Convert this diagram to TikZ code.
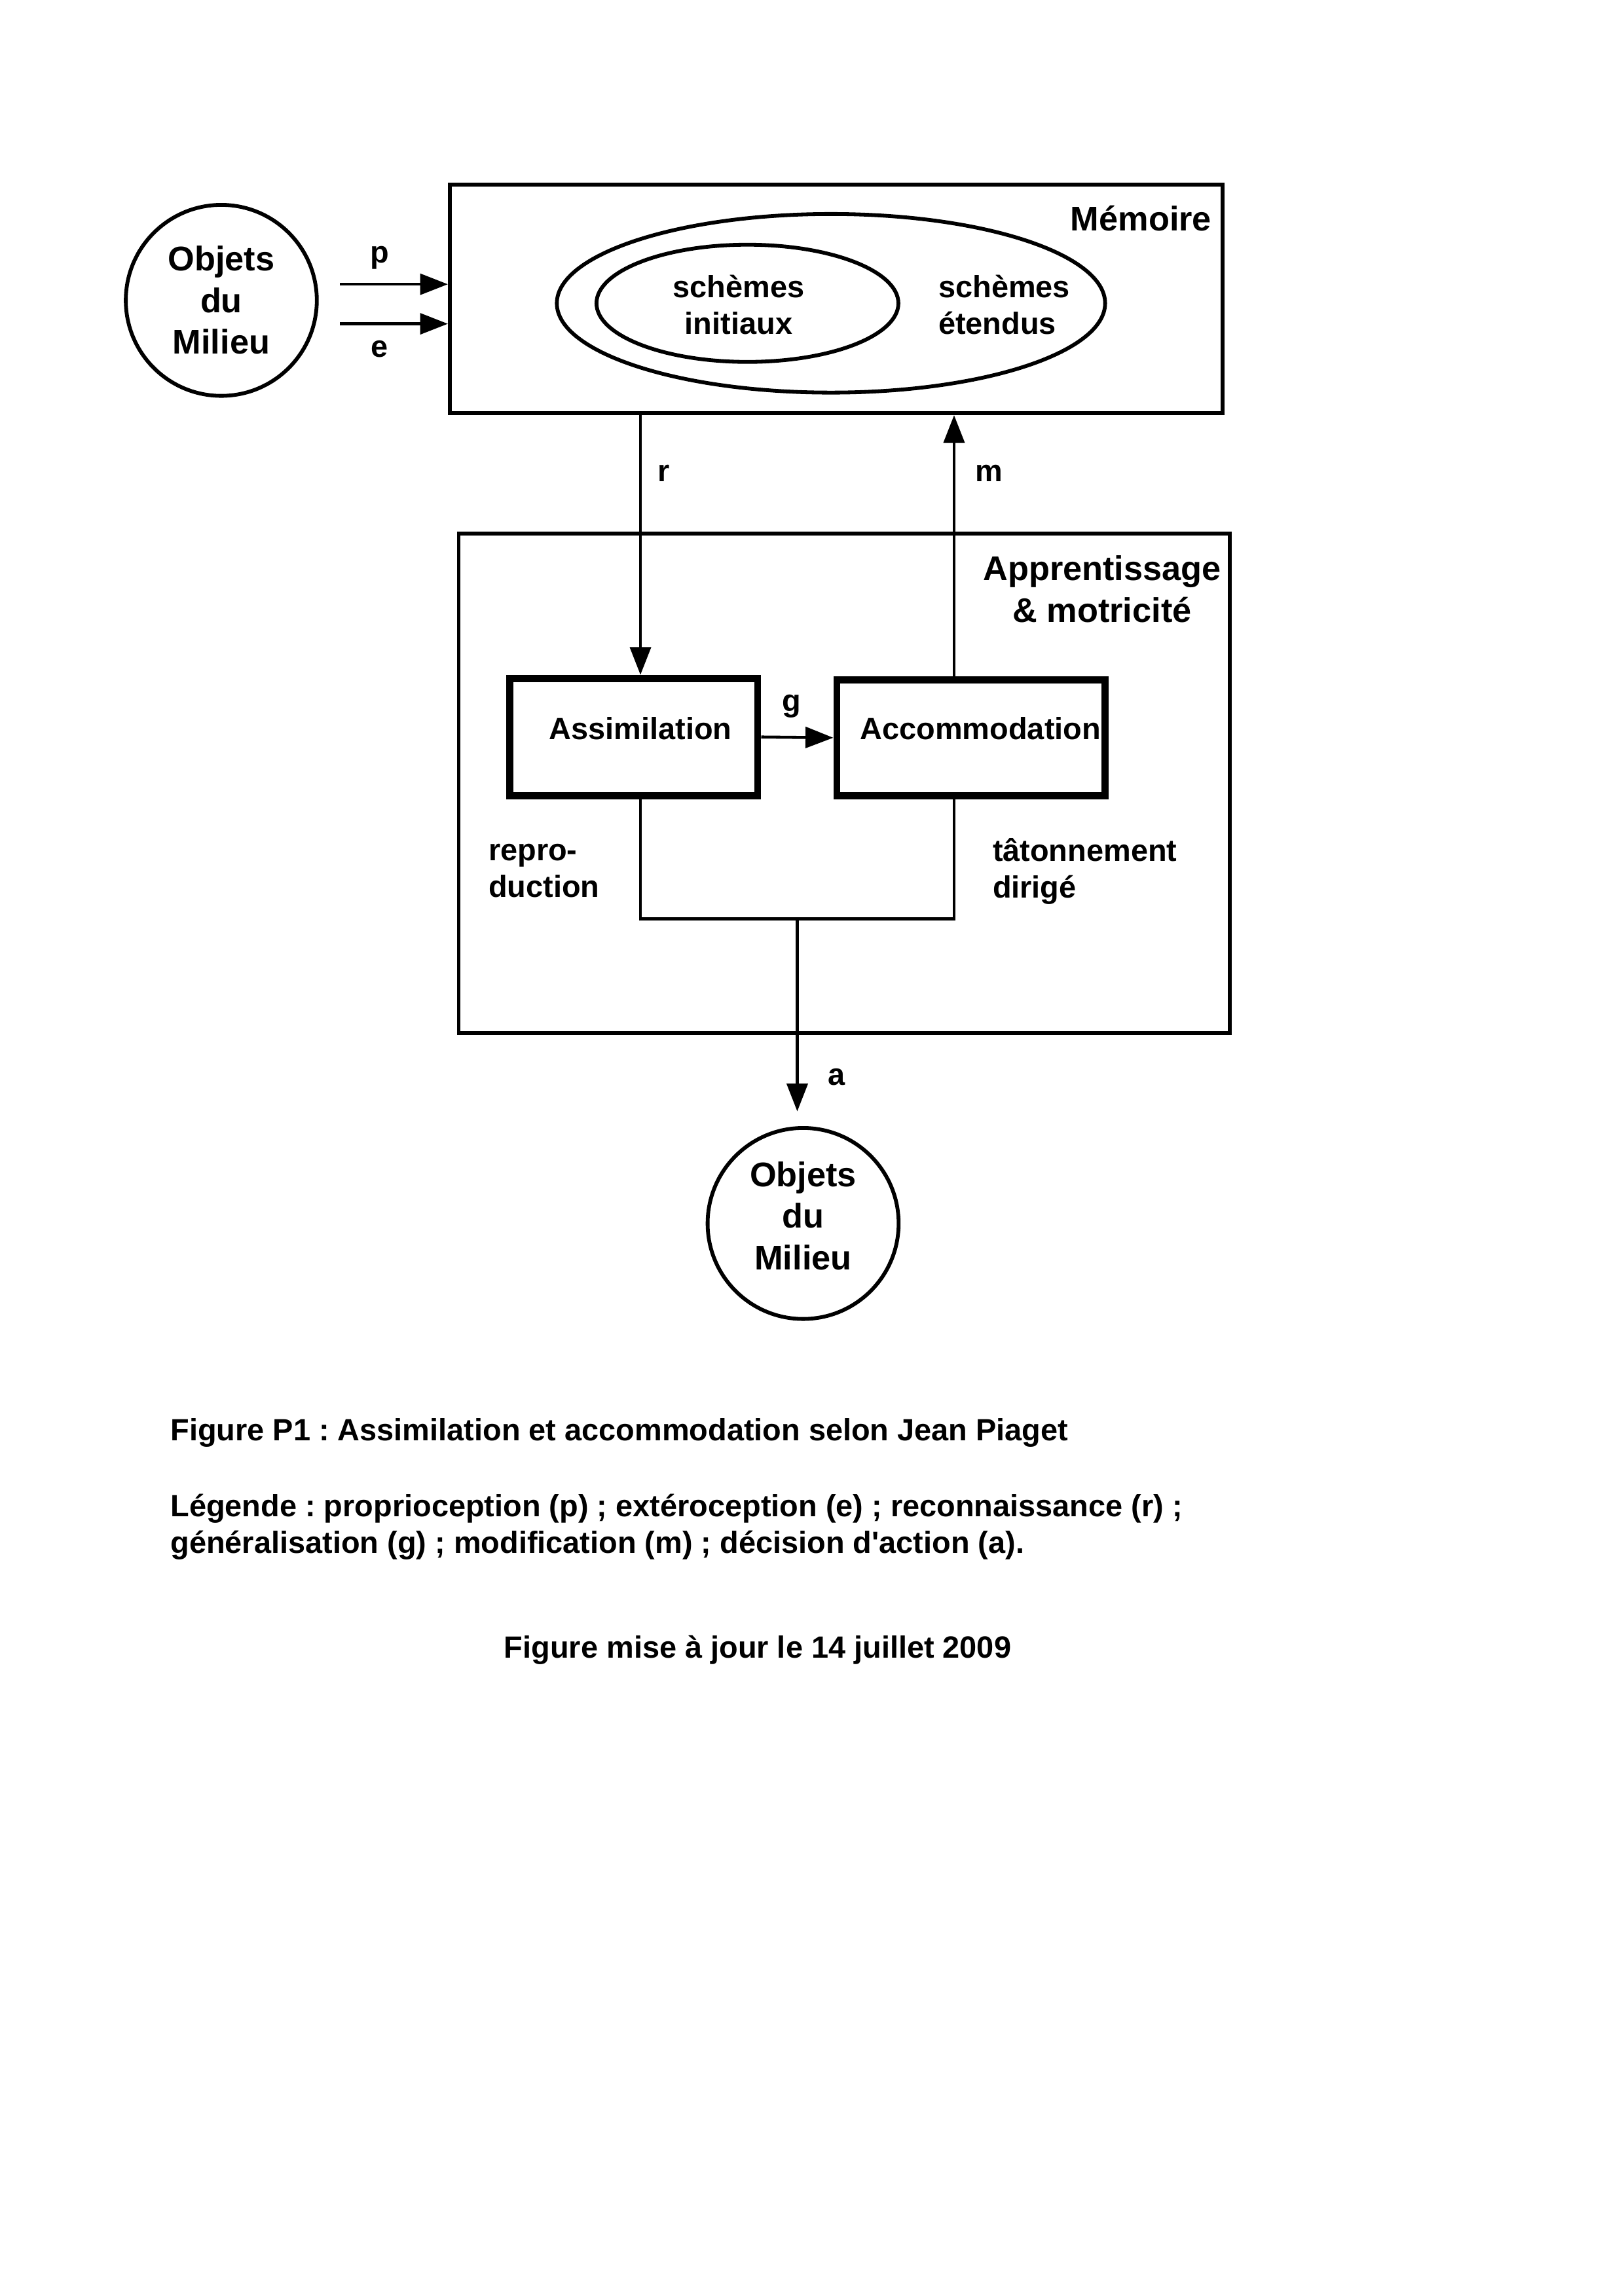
\documentclass[tikz,border=0pt]{standalone}
\usepackage{fontspec}
\setmainfont{Liberation Sans}
\usepackage{tikz}
\usetikzlibrary{positioning, shapes.geometric, arrows.meta}
\frenchspacing
\newcommand{\bigFmt}{\fontsize{12.6}{15.3}\selectfont\bfseries}
\newcommand{\smallFmt}{\fontsize{11.3}{13.5}\selectfont\bfseries}

\begin{document}
\begin{tikzpicture}[
			x=0.018953cm, y=-0.018953cm,
			milieu/.style={circle, draw, line width=1.4pt, minimum size=2.47cm, inner sep=0, align=center, font=\bigFmt},
			bigbox/.style={rectangle, draw, line width=1.4pt, inner sep=0},
			stagebox/.style={rectangle, draw, line width=2.6pt, inner sep=0},
			schema/.style={ellipse, draw, line width=1.4pt, inner sep=0},
			txt/.style={inner sep=0, font=\smallFmt},
			bigtxt/.style={inner sep=0, font=\bigFmt},
			arr/.style={-{Triangle[length=0.36cm, width=0.27cm]}, line width=1.1pt},
			link/.style={line width=1.1pt},
		]
		\useasboundingbox (0,0) rectangle (1108,1567);

		% memoire
		\node[milieu] (objin) at (151,205)   {Objets\\du\\Milieu};
		\node[bigbox, minimum width=9.99cm, minimum height=2.957cm] (mem) at (570.5,204) {};
		\node[bigtxt, anchor=east] (memT) at (827,149) {Mémoire};
		\node[schema, minimum width=7.09cm, minimum height=2.31cm]  (etendus)  at (567,207) {};
		\node[schema, minimum width=3.904cm, minimum height=1.516cm] (initiaux) at (510,207) {};
		\node[txt, align=center] (initT) at (504,208) {schèmes\\initiaux};
		\node[txt, align=left, anchor=west] (etenT) at (640,208) {schèmes\\étendus};

		\coordinate (pin) at (232,194);
		\coordinate (ein) at (232,221);
		\draw[arr] (pin) -- (pin -| mem.west);
		\draw[arr] (ein) -- (ein -| mem.west);
		\node[txt] (pT) at (259,176) {p};
		\node[txt] (eT) at (259,238) {e};

		% apprentissage
		\node[bigbox, minimum width=9.97cm, minimum height=6.463cm] (app) at (576,534.5) {};
		\node[bigtxt, align=center] (appT) at (752,402) {Apprentissage\\\& motricité};
		\node[stagebox, minimum width=3.203cm, minimum height=1.516cm] (assim) at (432.5,503) {};
		\node[txt] (assimT) at (437,497) {Assimilation};
		\node[stagebox, minimum width=3.468cm, minimum height=1.497cm] (accom) at (662.5,503.5) {};
		\node[txt] (accomT) at (669,497) {Accommodation};

		\draw[arr] (assimT |- mem.south) -- (assimT |- assim.north);
		\node[txt] (rT) at (453,323) {r};
		\coordinate (mtop) at ([xshift=-0.218cm]accom.north);
		\draw[arr] (mtop) -- (mtop |- mem.south);
		\node[txt] (mT) at (675,323) {m};
		\draw[arr] (assim.east) -- (accom.west);
		\node[txt] (gT) at (540,482) {g};

		\node[txt, align=left, anchor=west] (reproT) at (333,594.5) {repro-\\duction};
		\node[txt, align=left, anchor=west] (tatT) at (677,594.5) {tâtonnement\\dirigé};

		% action
		\node[milieu, text depth=0.2cm] (objout) at (548,835) {Objets\\du\\Milieu};
		\coordinate (join) at (544,627);
		\coordinate (aend) at ([yshift=0.19cm]objout.north);
		\draw[link] (assimT |- assim.south) |- (join) -| (mtop |- accom.south);
		\draw[arr] (join) -- (join |- aend);
		\node[txt] (aT) at (571,735) {a};

		% legende
		\node[txt, anchor=west] (figT) at (116,978) {Figure P1 : Assimilation et accommodation selon Jean Piaget};
		\node[txt, anchor=west, align=left] (legT) at (116,1042) {Légende : proprioception (p) ; extéroception (e) ; reconnaissance (r) ;\\généralisation (g) ; modification (m) ; décision d\textquotesingle action (a).};
		\node[txt] (dateT) at (517,1126) {Figure mise à jour le 14 juillet 2009};

\end{tikzpicture}
\end{document}
